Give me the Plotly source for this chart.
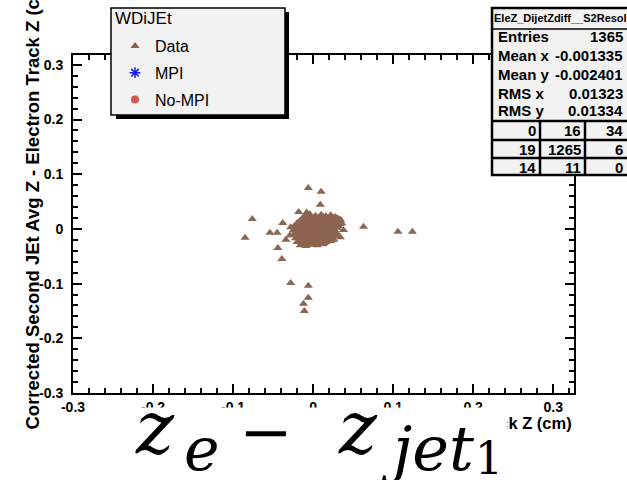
import plotly.graph_objects as go

# ---------------- data ----------------
# core cluster (cm)
core_x = [
    -0.010, -0.004, 0.003, 0.010, 0.016, 0.022, 0.028,
    -0.011, -0.005, 0.001, 0.007, 0.013, 0.019, 0.025, 0.031,
    -0.014, -0.008, -0.002, 0.004, 0.010, 0.016, 0.022, 0.028, 0.034,
    -0.017, -0.011, -0.005, 0.001, 0.007, 0.013, 0.019, 0.025, 0.031,
    -0.020, -0.014, -0.008, -0.002, 0.004, 0.010, 0.016, 0.022, 0.028, 0.033,
    -0.021, -0.015, -0.009, -0.003, 0.003, 0.009, 0.015, 0.021, 0.027, 0.032,
    -0.024, -0.018, -0.012, -0.006, 0.000, 0.006, 0.012, 0.018, 0.024, 0.030,
    -0.022, -0.016, -0.010, -0.004, 0.002, 0.008, 0.014, 0.020, 0.026,
    -0.025, -0.019, -0.013, -0.007, -0.001, 0.005, 0.011, 0.017, 0.023, 0.029,
    -0.021, -0.015, -0.009, -0.003, 0.003, 0.009, 0.015, 0.021, 0.027,
    -0.024, -0.018, -0.012, -0.006, 0.000, 0.006, 0.012, 0.018, 0.024, 0.030,
    -0.019, -0.013, -0.007, -0.001, 0.005, 0.011, 0.017, 0.023,
    -0.022, -0.016, -0.010, -0.004, 0.002, 0.008, 0.014, 0.020, 0.026,
    -0.017, -0.011, -0.005, 0.001, 0.007, 0.013, 0.019,
    -0.020, -0.014, -0.008, -0.002, 0.004, 0.010, 0.016, 0.022,
    -0.012, -0.006, 0.000, 0.007, 0.014,
    -0.016, -0.009, -0.002, 0.005, 0.012,
    -0.008, 0.036, 0.038, 0.034, -0.029, -0.028, 0.002, -0.005, 0.007,
]
core_y = [
    0.025, 0.027, 0.024, 0.026, 0.023, 0.025, 0.022,
    0.021, 0.022, 0.020, 0.021, 0.022, 0.020, 0.021, 0.019,
    0.018, 0.019, 0.017, 0.018, 0.019, 0.017, 0.018, 0.020, 0.017,
    0.014, 0.015, 0.013, 0.014, 0.015, 0.013, 0.014, 0.015, 0.012,
    0.011, 0.012, 0.010, 0.011, 0.012, 0.010, 0.011, 0.012, 0.010, 0.009,
    0.007, 0.008, 0.006, 0.007, 0.008, 0.006, 0.007, 0.008, 0.006, 0.005,
    0.004, 0.005, 0.003, 0.004, 0.005, 0.003, 0.004, 0.005, 0.003, 0.002,
    0.000, 0.001, -0.001, 0.000, 0.001, -0.001, 0.000, 0.001, -0.002,
    -0.003, -0.002, -0.004, -0.003, -0.002, -0.004, -0.003, -0.002, -0.004, -0.006,
    -0.007, -0.006, -0.008, -0.007, -0.006, -0.008, -0.007, -0.006, -0.009,
    -0.010, -0.011, -0.009, -0.010, -0.011, -0.009, -0.010, -0.011, -0.012, -0.013,
    -0.014, -0.013, -0.015, -0.014, -0.013, -0.015, -0.014, -0.016,
    -0.017, -0.018, -0.016, -0.017, -0.018, -0.016, -0.017, -0.019, -0.020,
    -0.021, -0.020, -0.022, -0.021, -0.020, -0.022, -0.021,
    -0.024, -0.025, -0.023, -0.024, -0.025, -0.023, -0.024, -0.022,
    -0.027, -0.028, -0.026, -0.027, -0.026,
    -0.030, -0.031, -0.029, -0.030, -0.028,
    0.030, 0.010, -0.002, -0.015, -0.012, 0.003, -0.006, 0.000, -0.008,
]
# isolated entries
out_x = [-0.006, 0.010, 0.009, -0.018, -0.076, -0.085, -0.054, -0.045, -0.038,
         -0.034, -0.044, -0.039, 0.063, 0.106, 0.124, -0.028, -0.006, -0.006,
         -0.012, -0.011, 0.034]
out_y = [0.075, 0.068, 0.044, 0.031, 0.018, -0.016, -0.007, -0.007, 0.011,
         -0.020, -0.035, -0.055, 0.004, -0.005, -0.005, -0.099, -0.104, -0.126,
         -0.137, -0.150, 0.016]

data_x = core_x + out_x
data_y = core_y + out_y

tick_vals = [-0.3, -0.2, -0.1, 0, 0.1, 0.2, 0.3]
tick_text = ["-0.3", "-0.2", "-0.1", "0", "0.1", "0.2", "0.3"]

stats_labels = ["Entries", "Mean x", "Mean y", "RMS x", "RMS y"]
stats_values = ["1365", "-0.001335", "-0.002401", "0.01323", "0.01334"]
grid_values = [["0", "16", "34"], ["19", "1265", "6"], ["14", "11", "0"]]

stats_title = "EleZ_DijetZdiff__S2Resol"
legend_title = "WDiJEt"
y_title = "Corrected Second JEt Avg Z - Electron Track Z (cm)"
x_title = "Corrected Leading JEt Avg Z - Electron Track Z (cm)"

# ---------------- layout helpers (pixel -> paper) ----------------
W, H = 627, 480
L, R, T, B = 73, 574, 55, 393


def px(x):
    return (x - L) / (R - L)


def py(y):
    return (B - y) / (B - T)


FONT = "Liberation Sans, Arial, Helvetica, sans-serif"
SERIF = "DejaVu Serif, Liberation Serif, serif"
BROWN = "#8c6450"

fig = go.Figure()
fig.add_trace(go.Scatter(
    x=data_x, y=data_y, mode="markers", name="Data", legendgroup="a",
    marker=dict(symbol="triangle-up", size=8, color=BROWN, line=dict(width=0)),
))
fig.add_trace(go.Scatter(
    x=[None], y=[None], mode="markers", name="MPI", legendgroup="b",
    marker=dict(symbol="asterisk-open", size=9, color="#1a1aff",
                line=dict(width=1.5, color="#1a1aff")),
))
fig.add_trace(go.Scatter(
    x=[None], y=[None], mode="markers", name="No-MPI", legendgroup="c",
    marker=dict(symbol="circle", size=8, color="#d65555"),
))

axis_common = dict(
    showgrid=False, zeroline=False, showline=True, linecolor="black", linewidth=2,
    mirror="allticks", ticks="inside", ticklen=9, tickwidth=2, tickcolor="black",
    tickmode="array", tickvals=tick_vals, ticktext=tick_text,
    tickfont=dict(family=FONT, size=14, color="black", weight="bold"),
    minor=dict(dtick=0.02, tick0=0, ticks="inside", ticklen=5, tickwidth=2,
               tickcolor="black", showgrid=False),
)
fig.update_xaxes(range=[-0.3, 0.326], ticklabelstandoff=0, **axis_common)
fig.update_yaxes(range=[-0.3, 0.318], ticklabelstandoff=5, **axis_common)


def hline(y, x0=492, x1=640, w=2.5):
    return dict(type="line", xref="paper", yref="paper", x0=px(x0), x1=px(x1), y0=py(y), y1=py(y),
                line=dict(color="black", width=w), layer="above")


def vline(x, y0, y1, w=2.5):
    return dict(type="line", xref="paper", yref="paper", x0=px(x), x1=px(x), y0=py(y0), y1=py(y1),
                line=dict(color="black", width=w), layer="above")


shapes = [
    # legend box with shadow
    dict(type="rect", xref="paper", yref="paper", x0=px(116), x1=px(289), y0=py(12), y1=py(119),
         fillcolor="black", line=dict(width=0), layer="above"),
    dict(type="rect", xref="paper", yref="paper", x0=px(111), x1=px(285), y0=py(8), y1=py(115),
         fillcolor="#f2f2f2", line=dict(color="black", width=1.5), layer="above"),
    # stats box
    dict(type="rect", xref="paper", yref="paper", x0=px(492), x1=px(640), y0=py(8), y1=py(175),
         fillcolor="#f2f2f2", line=dict(color="black", width=2.5), layer="above"),
    hline(29, w=1.5), hline(121), hline(140), hline(158),
    vline(540, 121, 175), vline(585, 121, 175),
]

bold = dict(family=FONT, size=15, color="black", weight="bold")
ann = [
    dict(text=stats_title, x=px(560), y=py(18), xref="paper", yref="paper",
         xanchor="center", yanchor="middle",
         showarrow=False, font=dict(family=FONT, size=11, color="black", weight="bold")),
]
row_y = [36, 55, 75, 93, 111]
for lab, val, yy in zip(stats_labels, stats_values, row_y):
    ann.append(dict(text=lab, x=px(496), y=py(yy), xref="paper", yref="paper", xanchor="left",
                    yanchor="middle", showarrow=False, font=bold))
    ann.append(dict(text=val, x=px(625), y=py(yy), xref="paper", yref="paper", xanchor="right",
                    yanchor="middle", showarrow=False, font=bold))
grid_y = [130, 149, 167]
grid_xr = [538, 583, 625]
for r, yy in zip(grid_values, grid_y):
    for v, xx in zip(r, grid_xr):
        ann.append(dict(text=v, x=px(xx), y=py(yy), xref="paper", yref="paper", xanchor="right",
                        yanchor="middle", showarrow=False, font=bold))

# legend title
ann.append(dict(text=legend_title, x=px(113), y=py(19), xref="paper", yref="paper",
                xanchor="left", yanchor="middle", showarrow=False,
                font=dict(family=FONT, size=17, color="black")))

# axis titles (ROOT style, right aligned)
ann.append(dict(text=y_title, x=px(32), y=py(432), xref="paper", yref="paper", textangle=-90,
                xanchor="center", yanchor="bottom", showarrow=False,
                font=dict(family=FONT, size=18.5, color="black", weight="bold")))
ann.append(dict(text=x_title, x=px(574), y=py(423), xref="paper", yref="paper",
                xanchor="right", yanchor="middle", showarrow=False,
                font=dict(family=FONT, size=16.5, color="black", weight="bold")))
# pasted formula image over the bottom: white cover then glyph pieces
ann.append(dict(text=" ", x=px(125), y=py(407), xref="paper", yref="paper",
                xanchor="left", yanchor="top", width=381, height=73, bgcolor="white",
                borderpad=0, showarrow=False, font=dict(size=10)))
pieces = [
    ("<i>z</i>", 155, 428, 72),
    ("<i>e</i>", 202, 449, 60),
    ("−", 266, 432, 64),
    ("<i>z</i>", 358, 428, 72),
    ("<i>jet</i>", 427, 448, 62),
    ("1", 489, 459, 44),
]
for txt, cx, cy, fs in pieces:
    ann.append(dict(text=txt, x=px(cx), y=py(cy), xref="paper", yref="paper",
                    xanchor="center", yanchor="middle", showarrow=False,
                    font=dict(family=SERIF, size=fs, color="black")))

fig.update_layout(
    width=W, height=H,
    margin=dict(l=L, r=W - R, t=T, b=H - B),
    paper_bgcolor="white", plot_bgcolor="white",
    showlegend=True,
    legend=dict(
        x=px(115), y=py(29), xanchor="left", yanchor="top",
        bgcolor="rgba(0,0,0,0)", borderwidth=0,
        font=dict(family=FONT, size=16, color="black"),
        tracegroupgap=3,
    ),
    shapes=shapes,
    annotations=ann,
)

fig.write_html("out.html")
